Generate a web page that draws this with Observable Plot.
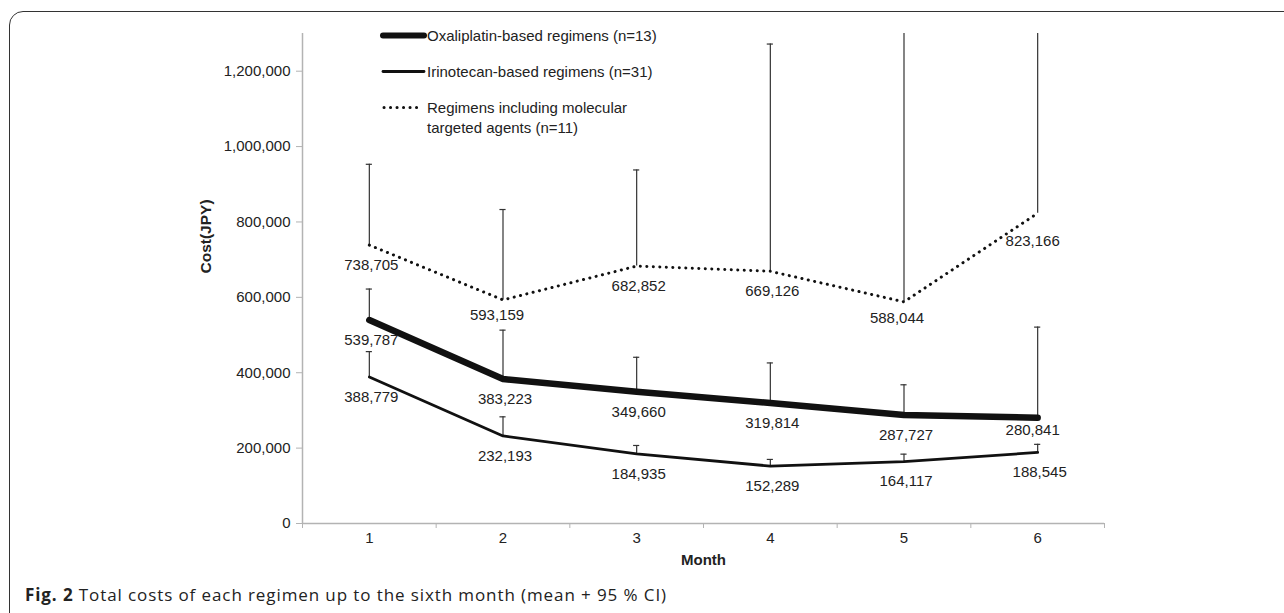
<!DOCTYPE html>
<html><head><meta charset="utf-8">
<script src="https://cdn.jsdelivr.net/npm/d3@7"></script>
<script src="https://cdn.jsdelivr.net/npm/@observablehq/plot@0.6"></script>
<style>
html,body{margin:0;padding:0;background:#fff;}
#wrap{position:relative;width:1284px;height:613px;overflow:hidden;font-family:"Liberation Sans",Arial,sans-serif;}
#frame{position:absolute;left:9px;top:11px;width:1320px;height:660px;border:1.5px solid #333;border-radius:14px;box-sizing:border-box;}
#chart{position:absolute;left:0;top:0;}
#legend{position:absolute;left:0;top:0;}
#caption{position:absolute;left:25px;top:586px;font-family:"Open Sans";font-size:17px;line-height:1;letter-spacing:0.9px;color:#222;white-space:nowrap;}
</style></head><body>
<div id="wrap"><div id="frame"></div><div id="chart"></div><svg id="legend" width="700" height="140"></svg><div id="caption"><b>Fig. 2</b> Total costs of each regimen up to the sixth month (mean + 95 % CI)</div></div>
<script>
// ---- data ----
const months = [1, 2, 3, 4, 5, 6];
const seriesKeys = ["oxali", "irino", "molec"];
const legendLines = [
  ["Oxaliplatin-based regimens (n=13)"],
  ["Irinotecan-based regimens (n=31)"],
  ["Regimens including molecular", "targeted agents (n=11)"]
];
const oxaliMean  = [539787, 383223, 349660, 319814, 287727, 280841];
const oxaliUpper = [622000, 513000, 441000, 426000, 368000, 521000];
const irinoMean  = [388779, 232193, 184935, 152289, 164117, 188545];
const irinoUpper = [456000, 283000, 207000, 170000, 184000, 210000];
const molecMean  = [738705, 593159, 682852, 669126, 588044, 823166];
const molecUpper = [953000, 833000, 938000, 1272000, 1500000, 1450000];
const yTicks = [0, 200000, 400000, 600000, 800000, 1000000, 1200000];
const yMax = 1300000;

// ---- table ----
const means = {oxali: oxaliMean, irino: irinoMean, molec: molecMean};
const uppers = {oxali: oxaliUpper, irino: irinoUpper, molec: molecUpper};
const rows = seriesKeys.flatMap(s => months.map((m, i) => ({series: s, month: m, mean: means[s][i], upper: uppers[s][i]})));

// label placement tweaks (layout only)
const defaultNudge = [2, 20];
const nudges = {"molec-2": [-6, 15], "molec-5": [-7, 16], "molec-6": [-5, 28], "oxali-6": [-5, 13]};
const nudgeOf = d => nudges[d.series + "-" + d.month] || defaultNudge;
const groups = d3.groups(rows, d => nudgeOf(d).join(","));

const styles = {
  oxali: {stroke: "#111", strokeWidth: 6.5},
  irino: {stroke: "#111", strokeWidth: 2.8},
  molec: {stroke: "#111", strokeWidth: 3, strokeDasharray: "0.1 6.4"}
};
const gray = "#b3b3b3";
const bounds = months.map(m => m - 0.5).concat([months[months.length - 1] + 0.5]);

const chart = Plot.plot({
  width: 1284, height: 575,
  marginLeft: 302, marginRight: 180, marginTop: 33, marginBottom: 52,
  style: {fontFamily: "'Liberation Sans', Arial, sans-serif", fontSize: "15px", color: "#222", background: "transparent"},
  x: {type: "linear", domain: [bounds[0], bounds[bounds.length - 1]]},
  y: {domain: [0, yMax]},
  marks: [
    Plot.ruleX([bounds[0]], {stroke: gray, strokeWidth: 1.5}),
    Plot.ruleY([0], {stroke: gray, strokeWidth: 1.5}),
    Plot.axisY({ticks: yTicks, tickSize: 6, tickPadding: 6, tickFormat: d3.format(","), stroke: gray, fill: "#222", label: null, fontSize: 15}),
    Plot.axisX({ticks: bounds, tickSize: 5, tickFormat: () => "", stroke: gray, label: null}),
    Plot.text(months, {x: d => d, frameAnchor: "bottom", dy: 19, text: d => String(d), fill: "#222", fontSize: 15}),
    Plot.text(["Month"], {x: (bounds[0] + bounds[bounds.length - 1]) / 2, frameAnchor: "bottom", dy: 41, text: d => d, fontWeight: "bold", fill: "#222", fontSize: 15}),
    Plot.text(["Cost(JPY)"], {frameAnchor: "left", dx: -96, dy: -5, rotate: -90, text: d => d, fontWeight: "bold", fill: "#222", fontSize: 15.5}),
    // error bars
    Plot.ruleX(rows, {x: "month", y1: "mean", y2: "upper", stroke: "#333", strokeWidth: 1.2, clip: true}),
    Plot.ruleY(rows, {y: "upper", x1: d => d.month - 0.023, x2: d => d.month + 0.023, stroke: "#333", strokeWidth: 1.2, clip: true}),
    // lines
    ...seriesKeys.map(s => Plot.line(rows.filter(d => d.series === s), {x: "month", y: "mean", ...styles[s], strokeLinecap: "round", strokeLinejoin: "round"})),
    // value labels
    ...groups.map(([k, g]) => {
      const [dx, dy] = k.split(",").map(Number);
      return Plot.text(g, {x: "month", y: "mean", text: d => d3.format(",")(d.mean), dx, dy, fill: "#222", fontSize: 15});
    })
  ]
});
document.getElementById("chart").appendChild(chart);

// ---- legend ----
const leg = d3.select("#legend");
const rowY = [35.5, 71.5, 107.5];
seriesKeys.forEach((s, i) => {
  const st = styles[s];
  leg.append("line").attr("x1", s === "molec" ? 384 : 383).attr("x2", s === "molec" ? 421 : 424)
    .attr("y1", rowY[i]).attr("y2", rowY[i])
    .attr("stroke", st.stroke).attr("stroke-width", s === "oxali" ? 6 : st.strokeWidth)
    .attr("stroke-linecap", "round").attr("stroke-dasharray", st.strokeDasharray || null);
  legendLines[i].forEach((t, j) => {
    leg.append("text").attr("x", 427).attr("y", rowY[i] + j * 20).attr("dy", "0.35em")
      .attr("fill", "#222").attr("font-size", 15).attr("font-family", "'Liberation Sans', Arial, sans-serif").text(t);
  });
});
</script>
</body></html>
